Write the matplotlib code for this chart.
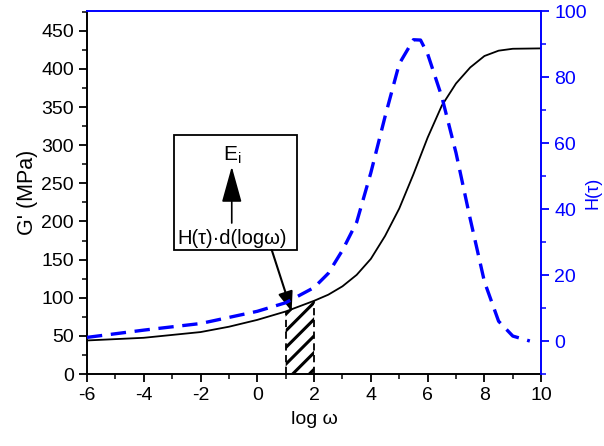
import matplotlib
matplotlib.use("Agg")
import matplotlib.pyplot as plt
import numpy as np
from matplotlib.patches import Rectangle
from matplotlib.ticker import MultipleLocator

plt.rcParams["font.family"] = ["Liberation Sans", "DejaVu Sans"]
plt.rcParams["mathtext.fontset"] = "custom"
plt.rcParams["mathtext.rm"] = "Liberation Sans"
plt.rcParams["hatch.linewidth"] = 2.2
plt.rcParams["axes.unicode_minus"] = False

# storage modulus G' (MPa) vs log omega
log_w_g = [-6, -4, -2, -1, 0, 1, 2, 2.5, 3, 3.5, 4, 4.5, 5, 5.5, 6, 6.5, 7, 7.5, 8, 8.5, 9, 10]
g_prime = [44, 47.5, 55, 62, 71, 82, 96, 104, 115, 130, 151, 181, 217, 262, 310, 352, 381, 402, 417, 424, 426.5, 427]

# relaxation spectrum H(tau)
log_w_h = [-6, -4, -2, 0, 1, 2, 2.5, 3, 3.5, 4, 4.5, 5, 5.5, 5.75, 6, 6.5, 7, 7.5, 8, 8.5, 9, 9.6]
h_tau = [1.1, 3.3, 5.3, 9, 11.6, 16.2, 20.5, 27.5, 36, 51, 68, 84, 91.3, 91.2, 87, 74, 57, 37, 18, 6, 1.5, 0]

strip = [1, 2]  # d(log omega) interval

fig = plt.figure(figsize=(6.04, 4.46), dpi=100)
ax = fig.add_axes([0.144, 0.1614, 0.752, 0.8139])
ax2 = ax.twinx()

ax.plot(log_w_g, g_prime, color="black", lw=1.3, zorder=3)

xs = np.linspace(strip[0], strip[1], 30)
top = np.interp(xs, log_w_g, g_prime)
ax.fill_between(xs, 0, top, facecolor="none", edgecolor="black", hatch="//", linewidth=0, zorder=2)
ax.vlines(strip, 0, np.interp(strip, log_w_g, g_prime), colors="black", linestyles=(0, (4, 2.5)), lw=1.3, zorder=3)

ax2.plot(log_w_h, h_tau, color="blue", lw=2.4, ls=(0, (4.6, 2.6)), zorder=3)

ax.set_xlim(-6, 10)
ax.set_ylim(0, 476)
ax2.set_ylim(-10, 100)
ax.xaxis.set_major_locator(MultipleLocator(2))
ax.xaxis.set_minor_locator(MultipleLocator(1))
ax.yaxis.set_major_locator(MultipleLocator(50))
ax.yaxis.set_minor_locator(MultipleLocator(25))
ax2.yaxis.set_major_locator(MultipleLocator(20))
ax2.yaxis.set_minor_locator(MultipleLocator(10))

for a in (ax, ax2):
    a.tick_params(which="major", direction="out", length=6, width=1.3, labelsize=14)
    a.tick_params(which="minor", direction="out", length=3.5, width=1.1)
ax2.tick_params(axis="y", which="both", colors="blue", labelcolor="blue")

for s in ("left", "bottom"):
    ax.spines[s].set_linewidth(1.4)
ax2.spines["right"].set_color("blue")
ax2.spines["right"].set_linewidth(1.4)
ax2.spines["top"].set_color("blue")
ax2.spines["top"].set_linewidth(1.4)
ax2.spines["left"].set_visible(False)
ax2.spines["bottom"].set_visible(False)
ax.spines["top"].set_visible(False)
ax.spines["right"].set_visible(False)

ax.set_xlabel("log ω", fontsize=14, labelpad=5)
ax.set_ylabel("G' (MPa)", fontsize=15.5, labelpad=2)
ax2.set_ylabel("H(τ)", fontsize=13, color="blue", rotation=90, va="center")
ax2.yaxis.set_label_coords(1.113, 0.5)

# annotation box
ax.add_patch(Rectangle((-2.93, 162.5), 4.32, 150.5, fill=False, edgecolor="black", lw=1.3, zorder=4))
ax.text(-0.9, 287, r"E$_\mathregular{i}$", fontsize=15, ha="center", va="center", zorder=5)
ax.annotate("", xy=(-0.9, 272), xytext=(-0.9, 198),
            arrowprops=dict(arrowstyle="-|>,head_length=0.9,head_width=0.25", mutation_scale=25,
                            color="black", lw=1.2, shrinkA=0, shrinkB=0), zorder=5)
ax.text(-0.9, 178, "H(τ)·d(logω)", fontsize=14.5, ha="center", va="center", zorder=5)
ax.annotate("", xy=(1.21, 82), xytext=(0.51, 162.5),
            arrowprops=dict(arrowstyle="-|>,head_length=0.8,head_width=0.3", mutation_scale=15,
                            color="black", lw=1.5, shrinkA=0, shrinkB=0), zorder=5)

fig.savefig("out.png", dpi=100)
